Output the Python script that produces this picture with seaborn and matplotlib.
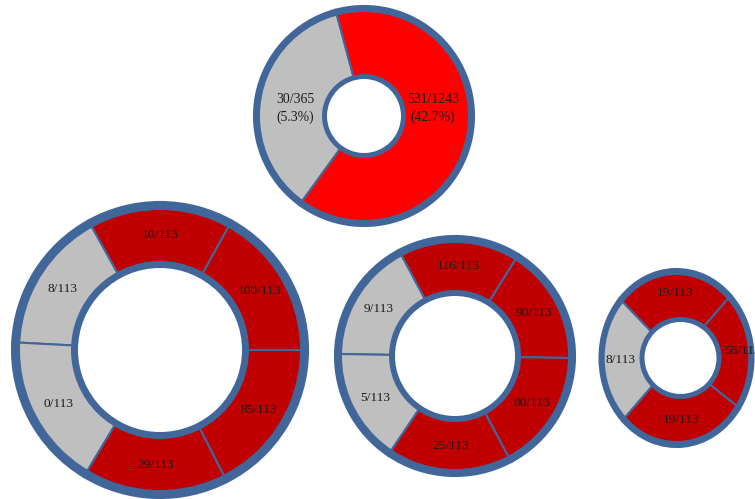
import matplotlib
matplotlib.use("Agg")
import numpy as np
import matplotlib.pyplot as plt
from matplotlib.patches import Ellipse
import seaborn as sns

# ---- data -------------------------------------------------------------
# overall donut (top)
overall_labels = ["30/365\n(5.3%)", "531/1243\n(42.7%)"]
overall_share = [129, 231]
overall_kind = ["grey", "bright"]

# large donut (bottom left)
left_labels = ["100/113", "10/113", "8/113", "0/113", "29/113", "85/113"]
left_share = [61, 58, 58, 62, 58, 63]
left_kind = ["red", "red", "grey", "grey", "red", "red"]

# medium donut (bottom middle)
mid_labels = ["90/113", "116/113", "9/113", "5/113", "25/113", "80/113"]
mid_share = [59, 60, 61, 57, 62, 61]
mid_kind = ["red", "red", "grey", "grey", "red", "red"]

# small donut (bottom right)
right_labels = ["58/113", "19/113", "8/113", "19/113"]
right_share = [79.5, 93, 87, 100.5]
right_kind = ["red", "red", "grey", "red"]

# ---- style ------------------------------------------------------------
sns.set_theme(style="white")
plt.rcParams["font.family"] = ["Liberation Serif", "DejaVu Serif"]

PALETTE = {"grey": "#BFBFBF", "red": "#C00000", "bright": "#FF0000"}
BLUE = "#41679A"
TEXT = "#1c1c1c"

W, H = 755, 499
fig = plt.figure(figsize=(W / 100, H / 100), dpi=100)
fig.patch.set_facecolor("white")


def donut(cx, cy, rx, ry, shares, kinds, labels, start, band, hole_out, hole_in,
          label_r, label_angles=None, hole_dx=0.0, fontsize=9.6):
    """Draw one ring chart; geometry given in pixels, drawn in unit coords."""
    pad = 1.03
    ax = fig.add_axes([(cx - rx * pad) / W, (H - cy - ry * pad) / H,
                       2 * rx * pad / W, 2 * ry * pad / H])
    wedges, _ = ax.pie(shares, colors=[PALETTE[k] for k in kinds],
                       startangle=start, counterclock=True, radius=1,
                       wedgeprops=dict(edgecolor=BLUE, linewidth=1.5))
    # outer rim
    ax.pie([1], radius=1, colors=[BLUE],
           wedgeprops=dict(width=band / ry, linewidth=0))
    # central hole with its blue rim
    hx = hole_dx / rx
    ax.add_patch(Ellipse((hx, 0), 2 * hole_out / rx, 2 * hole_out / ry,
                         facecolor=BLUE, edgecolor="none", zorder=5))
    ax.add_patch(Ellipse((hx, 0), 2 * hole_in / rx, 2 * hole_in / ry,
                         facecolor="white", edgecolor="none", zorder=6))
    radii = np.broadcast_to(np.asarray(label_r, dtype=float), (len(labels),))
    for i, (w, lab) in enumerate(zip(wedges, labels)):
        ang = (w.theta1 + w.theta2) / 2 if label_angles is None else label_angles[i]
        t = np.deg2rad(ang)
        ax.text(radii[i] * np.cos(t), radii[i] * np.sin(t), lab, ha="center",
                va="center", fontsize=fontsize, color=TEXT, linespacing=1.45,
                zorder=8, clip_on=False)
    ax.set_xlim(-pad, pad)
    ax.set_ylim(-pad, pad)
    ax.set_aspect("auto")
    ax.axis("off")
    return ax


donut(364, 116, 110, 110, overall_share, overall_kind, overall_labels,
      start=105, band=6, hole_out=42, hole_in=37, label_r=0.63,
      label_angles=[174, 6], fontsize=9.9)

donut(160, 350, 148, 148, left_share, left_kind, left_labels,
      start=0, band=8, hole_out=89, hole_in=82, label_r=0.78)

donut(455, 356, 120, 120, mid_share, mid_kind, mid_labels,
      start=-1, band=7, hole_out=66, hole_in=60, label_r=0.75)

donut(676.5, 358, 77, 89, right_share, right_kind, right_labels,
      start=-34.5, band=6, hole_out=41, hole_in=36,
      label_r=[0.86, 0.73, 0.73, 0.70], hole_dx=4)

fig.savefig("out.png", dpi=100, facecolor="white")
